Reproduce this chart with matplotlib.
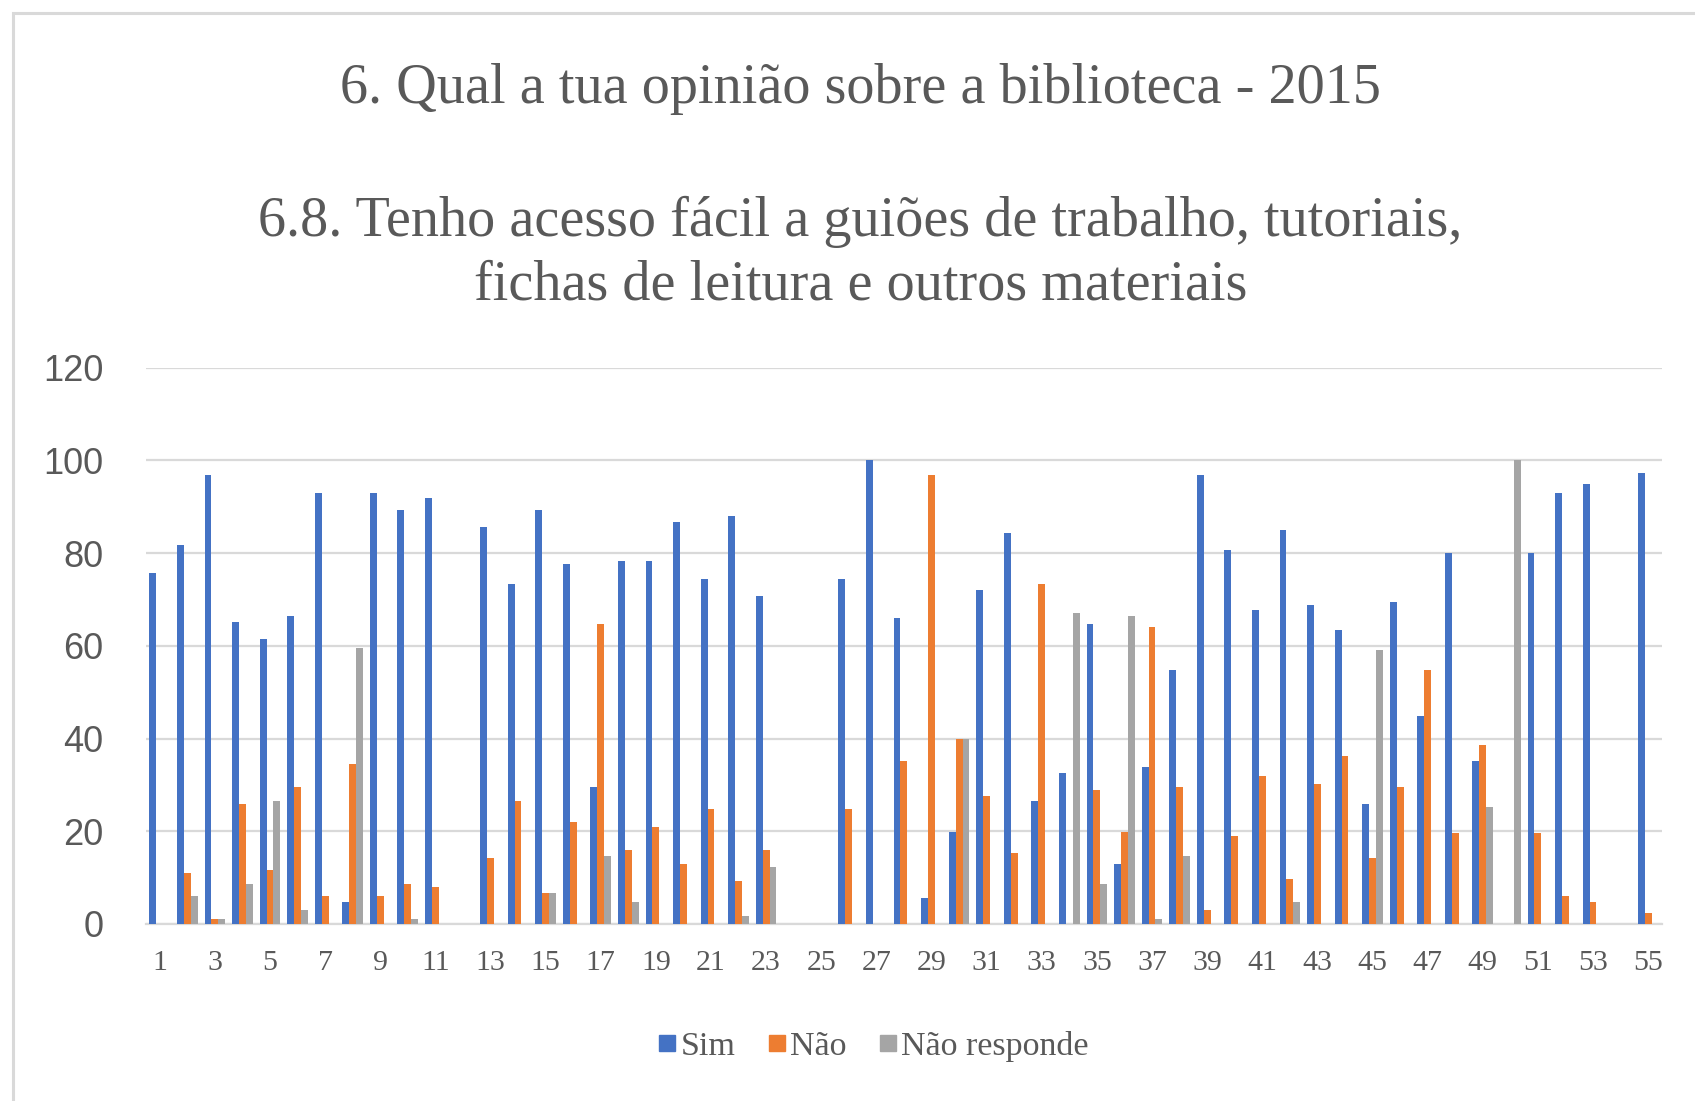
import numpy as np
from matplotlib import pyplot as plt
from matplotlib.lines import Line2D
from matplotlib.patches import Rectangle

# data (percentages per question number)
categories = list(range(1, 56))
sim = [75.7, 81.8, 96.8, 65.2, 61.5, 66.5, 93.0, 4.8, 93.0, 89.3,
       91.8, 0, 85.6, 73.3, 89.3, 77.6, 29.6, 78.2, 78.2, 86.8,
       74.5, 88.0, 70.8, 0, 0, 74.5, 100, 65.9, 5.6, 19.8,
       72.0, 84.4, 26.5, 32.6, 64.7, 12.9, 33.9, 54.7, 96.8, 80.7,
       67.7, 84.9, 68.9, 63.4, 25.8, 69.5, 44.9, 80.0, 35.1, 0,
       80.0, 93.0, 94.9, 0, 97.3]
nao = [0, 11.0, 1.1, 25.9, 11.7, 29.6, 6.1, 34.5, 6.1, 8.6,
       7.9, 0, 14.2, 26.5, 6.6, 22.1, 64.7, 15.9, 20.9, 12.9,
       24.7, 9.2, 15.9, 0, 0, 24.7, 0, 35.1, 96.8, 40.0,
       27.7, 15.4, 73.3, 0, 28.9, 19.8, 64.0, 29.6, 3.0, 19.0,
       32.0, 9.8, 30.1, 36.3, 14.2, 29.6, 54.7, 19.7, 38.7, 0,
       19.7, 6.1, 4.8, 0, 2.4]
nao_responde = [0, 6.1, 1.1, 8.6, 26.5, 3.0, 0, 59.6, 0, 1.1,
                0, 0, 0, 0, 6.6, 0, 14.7, 4.8, 0, 0,
                0, 1.8, 12.3, 0, 0, 0, 0, 0, 0, 40.0,
                0, 0, 0, 67.1, 8.6, 66.5, 1.1, 14.7, 0, 0,
                0, 4.8, 0, 0, 59.1, 0, 0, 0, 25.2, 100,
                0, 0, 0, 0, 0]
series_names = ['Sim', 'Não', 'Não responde']
title_main = '6. Qual a tua opinião sobre a biblioteca - 2015'
title_sub = ['6.8. Tenho acesso fácil a guiões de trabalho, tutoriais,',
             'fichas de leitura e outros materiais']

colors = ['#4472C4', '#ED7D31', '#A5A5A5']
text_col = '#595959'
grid_col = '#D9D9D9'
serif = ['Liberation Serif', 'DejaVu Serif']
sans = ['Liberation Sans', 'DejaVu Sans']

fig = plt.figure(figsize=(16.95, 11.01), dpi=100)
ax = fig.add_axes([0.0861, 0.1608, 0.8944, 0.5053])

x = np.arange(len(categories))
w = 0.25
for i, vals in enumerate([sim, nao, nao_responde]):
    ax.bar(x + (i - 1) * w, vals, width=w, color=colors[i], zorder=3)

ax.set_xlim(-0.5, len(categories) - 0.5)
ax.set_ylim(0, 120)
ax.set_yticks(range(0, 121, 20))
ax.set_xticks(x[::2])
ax.set_xticklabels([str(c) for c in categories[::2]], family=serif,
                   fontsize=21.5, color=text_col)
for lab in ax.get_yticklabels():
    lab.set_family(sans)
    lab.set_fontsize(26)
    lab.set_color(text_col)
ax.tick_params(axis='both', length=0)
ax.tick_params(axis='x', pad=19)
ax.tick_params(axis='y', pad=30.5)

# excel style gridlines, no frame
ax.yaxis.grid(True, color=grid_col, linewidth=1.6, zorder=0)
ax.set_axisbelow(True)
for side in ['top', 'right', 'left']:
    ax.spines[side].set_visible(False)
ax.spines['bottom'].set_color(grid_col)
ax.spines['bottom'].set_linewidth(1.6)

# titles
fig.text(0.5075, 0.9065, title_main, ha='center', va='baseline',
         family=serif, fontsize=40.5, color=text_col)
fig.text(0.5075, 0.7857, title_sub[0], ha='center', va='baseline',
         family=serif, fontsize=40.5, color=text_col)
fig.text(0.5075, 0.7280, title_sub[1], ha='center', va='baseline',
         family=serif, fontsize=40.5, color=text_col)

# legend at the bottom
handles = [Line2D([], [], marker='s', linestyle='none', markersize=12,
                  color=c) for c in colors]
fig.legend(handles, series_names, loc='center', bbox_to_anchor=(0.515, 0.0498),
           ncol=3, frameon=False, handlelength=0.6, handletextpad=0.1,
           columnspacing=0.9, prop={'family': serif, 'size': 24.5},
           labelcolor=text_col)

# chart frame (cropped at right and bottom)
fig.patches.append(Rectangle((0.0077, -0.5), 2.0, 0.9882 + 0.5, fill=False,
                             edgecolor=grid_col, linewidth=2.2,
                             transform=fig.transFigure))

fig.savefig('out.png', dpi=100)
